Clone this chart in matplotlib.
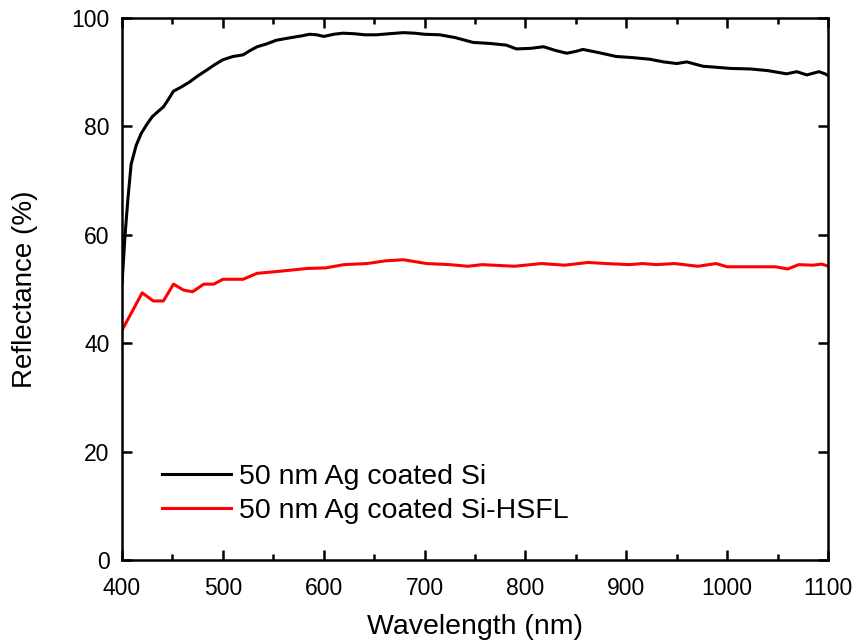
import matplotlib
matplotlib.use("Agg")
import matplotlib.pyplot as plt
from matplotlib.ticker import MultipleLocator

plt.rcParams['font.family'] = ['Liberation Sans', 'DejaVu Sans']

# Black: 50 nm Ag coated Si
wl_si = [400, 403, 406, 409, 414, 419, 425, 430, 436, 441, 446, 451, 459, 467, 475, 484, 492, 500,
         510, 520, 527, 534, 543, 553, 565, 578, 586, 593, 600, 610, 619, 630, 641, 652, 665, 679,
         690, 700, 715, 730, 748, 765, 781, 791, 805, 818, 830, 841, 849, 857, 873, 890, 906, 923,
         937, 950, 960, 976, 990, 1003, 1023, 1040, 1059, 1069, 1079, 1091, 1097, 1100]
r_si = [51, 60, 67, 73, 76.5, 78.7, 80.5, 81.8, 82.8, 83.6, 85, 86.5, 87.3, 88.2, 89.3, 90.4, 91.4, 92.3,
        92.9, 93.2, 94.0, 94.7, 95.2, 95.9, 96.3, 96.7, 97.0, 96.9, 96.6, 97.0, 97.2, 97.1, 96.9, 96.9, 97.1, 97.3,
        97.2, 97.0, 96.9, 96.4, 95.5, 95.3, 95.0, 94.3, 94.4, 94.7, 94.0, 93.5, 93.8, 94.2, 93.6, 92.9, 92.7, 92.4,
        91.9, 91.6, 91.9, 91.1, 90.9, 90.7, 90.6, 90.3, 89.7, 90.1, 89.5, 90.1, 89.7, 89.4]

# Red: 50 nm Ag coated Si-HSFL
wl_hsfl = [400, 420, 431, 441, 451, 461, 470, 481, 491, 500, 520, 534, 552, 584, 602, 620, 643, 661,
           679, 702, 725, 743, 757, 789, 816, 839, 862, 880, 903, 916, 930, 948, 971, 989, 1000, 1048,
           1060, 1071, 1085, 1094, 1100]
r_hsfl = [42.4, 49.3, 47.8, 47.8, 50.9, 49.8, 49.5, 50.9, 50.9, 51.8, 51.8, 52.9, 53.2, 53.8, 53.9, 54.5, 54.7, 55.2,
          55.4, 54.7, 54.5, 54.2, 54.5, 54.2, 54.7, 54.4, 54.9, 54.7, 54.5, 54.7, 54.5, 54.7, 54.2, 54.7, 54.1, 54.1,
          53.7, 54.5, 54.4, 54.6, 54.2]

xticks = [400, 500, 600, 700, 800, 900, 1000, 1100]
yticks = [0, 20, 40, 60, 80, 100]

fig = plt.figure(figsize=(8.57, 6.43), dpi=100)
ax = fig.add_axes([0.1424, 0.129, 0.8238, 0.843])
ax.plot(wl_si, r_si, color='black', lw=2.2, label='50 nm Ag coated Si')
ax.plot(wl_hsfl, r_hsfl, color='red', lw=2.2, label='50 nm Ag coated Si-HSFL')
ax.set_xlim(400, 1100)
ax.set_ylim(0, 100)
ax.set_xticks(xticks)
ax.set_yticks(yticks)
ax.xaxis.set_minor_locator(MultipleLocator(50))
for s in ax.spines.values():
    s.set_linewidth(1.8)
ax.tick_params(which='both', direction='in', top=True, right=True, labelsize=16.5, width=1.8)
ax.tick_params(axis='x', which='major', pad=12)
ax.tick_params(axis='y', which='major', pad=9)
ax.tick_params(which='major', length=7)
ax.tick_params(which='minor', length=4)
ax.tick_params(axis='y', which='minor', left=False, right=False)
ax.set_xlabel('Wavelength (nm)', fontsize=20.5, labelpad=10)
ax.set_ylabel('Reflectance (%)', fontsize=20, labelpad=24)
leg = ax.legend(loc='lower left', bbox_to_anchor=(0.021, 0.019), frameon=False, fontsize=20.5,
                handlelength=2.4, handletextpad=0.3, labelspacing=0.27)
fig.savefig('out.png', dpi=100)
